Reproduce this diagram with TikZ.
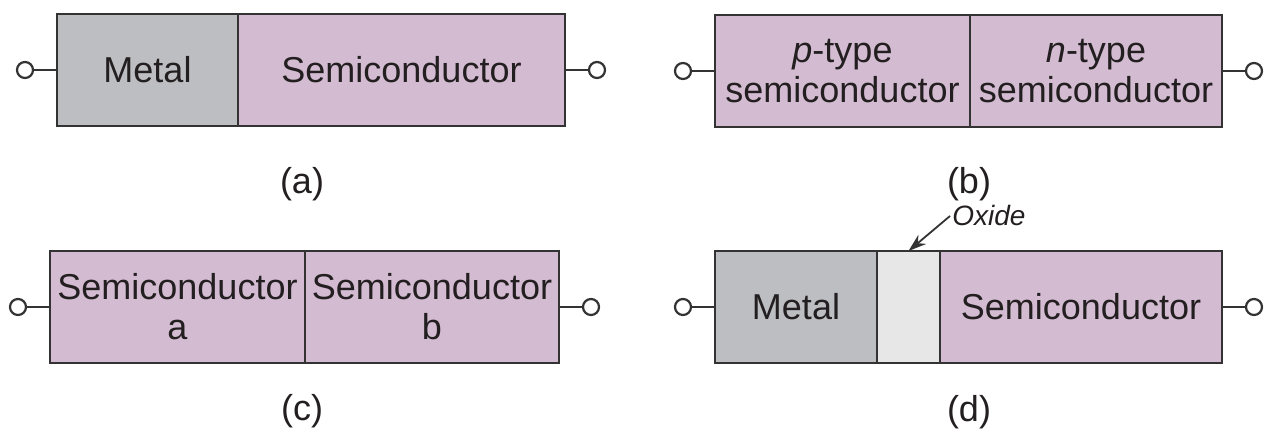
\documentclass[tikz,border=0pt]{standalone}
\usepackage{fontspec}
\setmainfont{Liberation Sans}
\usetikzlibrary{positioning,arrows.meta}
\definecolor{metalgray}{HTML}{BDBEC2}
\definecolor{semimauve}{HTML}{D3BBD1}
\definecolor{oxidegray}{HTML}{E7E7E7}
\definecolor{edgegray}{HTML}{333333}
\definecolor{inkdark}{HTML}{231F20}
\tikzset{
  layer/.style={draw=edgegray, line width=0.9pt, outer sep=0pt, inner sep=0pt, minimum height=56pt, align=center, text=inkdark},
  metal/.style={layer, fill=metalgray},
  semi/.style={layer, fill=semimauve},
  oxide/.style={layer, fill=oxidegray},
  term/.style={circle, draw=edgegray, line width=1.1pt, fill=white, minimum size=8pt, inner sep=0pt, outer sep=0pt},
  lead/.style={draw=edgegray, line width=0.9pt},
  caption/.style={text=inkdark}
}
\begin{document}
\begin{tikzpicture}[x=0.5pt, y=-0.5pt, font=\fontsize{18}{20}\selectfont]
\useasboundingbox (0,0) rectangle (1265,432);
\node[metal, minimum width=90.5pt] (ma) at (147.5,70) {Metal};
\node[semi, minimum width=163.5pt, right=0pt of ma] (sa) {Semiconductor};
\node[term, left=12pt of ma] (ta1) {};
\node[term, right=12pt of sa] (ta2) {};
\draw[lead] (ta1) -- (ma) (sa) -- (ta2);
\node[caption] (capa) at (302,184) {(a)};
\node[semi, minimum width=127.5pt] (pb) at (842.5,71) {\textit{p}-type\\semiconductor};
\node[semi, minimum width=126pt, right=0pt of pb] (nb) {\textit{n}-type\\semiconductor};
\node[term, left=12pt of pb] (tb1) {};
\node[term, right=12pt of nb] (tb2) {};
\draw[lead] (tb1) -- (pb) (nb) -- (tb2);
\node[caption] (capb) at (969,184) {(b)};
\node[semi, minimum width=127.5pt] (sca) at (177.5,307) {Semiconductor\\a};
\node[semi, minimum width=127pt, right=0pt of sca] (scb) {Semiconductor\\b};
\node[term, left=12pt of sca] (tc1) {};
\node[term, right=12pt of scb] (tc2) {};
\draw[lead] (tc1) -- (sca) (scb) -- (tc2);
\node[caption] (capc) at (302,411) {(c)};
\node[metal, minimum width=81pt] (md) at (796,307) {Metal};
\node[oxide, minimum width=31.5pt, right=0pt of md] (od) {};
\node[semi, minimum width=141pt, right=0pt of od] (sd) {Semiconductor};
\node[term, left=12pt of md] (td1) {};
\node[term, right=12pt of sd] (td2) {};
\draw[lead] (td1) -- (md) (sd) -- (td2);
\node[caption, font=\fontsize{14}{16}\selectfont\itshape, anchor=west, inner sep=1pt] (oxl) at (950,216) {Oxide};
\draw[lead, -{Stealth[length=9pt, width=6pt]}] (oxl.west) -- (od.north);
\node[caption] (capd) at (969,412) {(d)};
\end{tikzpicture}
\end{document}
